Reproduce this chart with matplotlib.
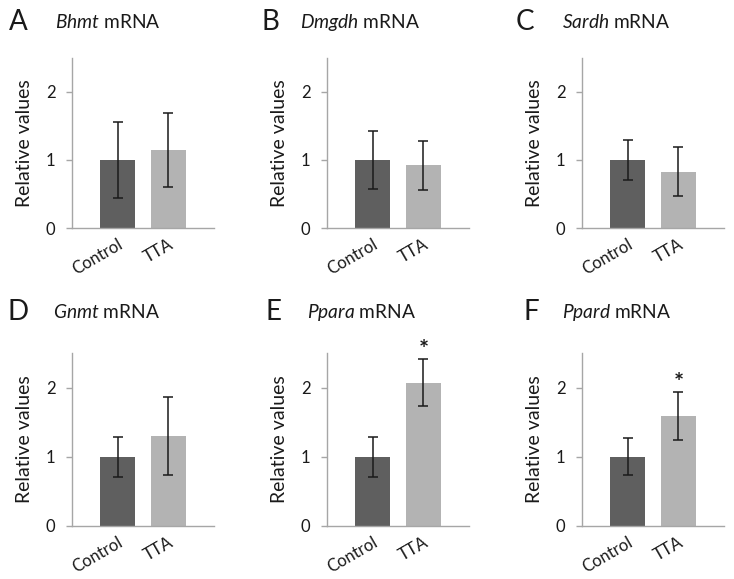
"""Six-panel bar chart of relative mRNA levels, control vs TTA."""

import matplotlib
matplotlib.use("Agg")
import matplotlib.pyplot as plt
from matplotlib.transforms import ScaledTranslation

plt.rcParams["font.family"] = ["Lato", "DejaVu Sans"]
plt.rcParams["mathtext.fontset"] = "custom"
plt.rcParams["mathtext.rm"] = "Lato"
plt.rcParams["mathtext.it"] = "Lato:italic"

letters = ["A", "B", "C", "D", "E", "F"]
genes = ["Bhmt", "Dmgdh", "Sardh", "Gnmt", "Ppara", "Ppard"]
groups = ["Control", "TTA"]
control_mean = [1.0, 1.0, 1.0, 1.0, 1.0, 1.0]
control_err = [0.56, 0.42, 0.30, 0.29, 0.29, 0.27]
tta_mean = [1.15, 0.92, 0.83, 1.30, 2.07, 1.59]
tta_err = [0.54, 0.36, 0.36, 0.57, 0.34, 0.35]
significant = [False, False, False, False, True, True]
yticks = [0, 1, 2]

W, H = 734, 579
fig = plt.figure(figsize=(W / 100, H / 100), dpi=100)

# pixel layout of each panel: axis left, axis bottom, letter x, title x
col_left = [72, 327, 582]
row_bottom = [228, 526]
row_top = [58, 353]
letter_x = [[9, 261, 516], [7, 265, 523]]
title_x = [[55, 300, 562], [53, 307, 562]]
text_y = [30, 320]

axw = 142
dark, light = "#5f5f5f", "#b3b3b3"
spine = "#a6a6a6"
ink = "#1a1a1a"

for i in range(6):
    r, c = divmod(i, 3)
    axh = row_bottom[r] - row_top[r]
    ax = fig.add_axes([col_left[c] / W, 1 - row_bottom[r] / H, axw / W, axh / H])
    means = [control_mean[i], tta_mean[i]]
    errs = [control_err[i], tta_err[i]]
    ax.bar([0, 1], means, width=0.7, color=[dark, light], zorder=2)
    ax.errorbar([0, 1], means, yerr=errs, fmt="none", ecolor=ink,
                elinewidth=1.1, capsize=3.5, capthick=1.1, zorder=3)
    if significant[i]:
        ax.annotate("*", (1, tta_mean[i] + tta_err[i]), xytext=(0, -2),
                    textcoords="offset points", ha="center", va="bottom",
                    fontsize=17, fontweight="bold", color=ink)
    ax.set_xlim(-0.9, 1.9)
    ax.set_ylim(0, 2.5)
    ax.set_yticks(yticks)
    ax.set_xticks([0, 1])
    ax.set_xticklabels(groups, rotation=30, ha="right", rotation_mode="anchor",
                       fontsize=12, color=ink)
    offset = ScaledTranslation(0.11, 0, fig.dpi_scale_trans)
    for lab in ax.get_xticklabels():
        lab.set_transform(lab.get_transform() + offset)
    ax.tick_params(axis="x", length=0, pad=6)
    ax.tick_params(axis="y", length=4, width=1, color=spine, labelsize=12,
                   labelcolor=ink, pad=8)
    for s in ["top", "right"]:
        ax.spines[s].set_visible(False)
    for s in ["left", "bottom"]:
        ax.spines[s].set_color(spine)
        ax.spines[s].set_linewidth(1)
    ax.set_ylabel("Relative values", fontsize=14, color=ink, labelpad=9)

    fig.text(letter_x[r][c] / W, 1 - text_y[r] / H, letters[i], fontsize=20,
             color=ink, va="baseline")
    fig.text(title_x[r][c] / W, 1 - (text_y[r] - 2) / H,
             r"$\it{" + genes[i] + "}$" + " mRNA", fontsize=13.8,
             color=ink, va="baseline")

plt.savefig("out.png", dpi=100)
